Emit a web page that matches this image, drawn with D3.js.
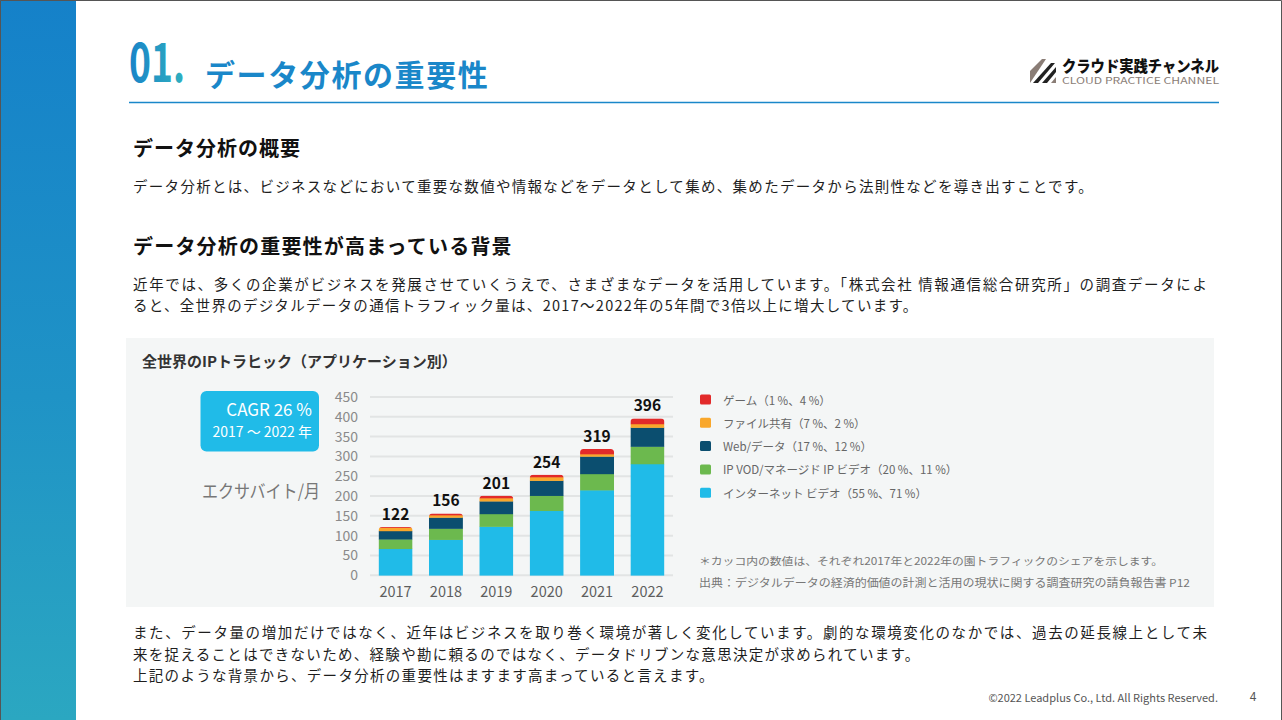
<!DOCTYPE html>
<html><head><meta charset="utf-8">
<script src="https://cdn.jsdelivr.net/npm/d3@7"></script>
<style>
html,body{margin:0;padding:0;background:#fff;}
svg{display:block;}
text{font-family:"Noto Sans CJK JP","Noto Sans",sans-serif;}
</style></head>
<body><svg id="c" width="1282" height="720"></svg>
<script>
const years = ["2017","2018","2019","2020","2021","2022"];
const seriesNames = ["インターネット ビデオ","IP VOD/マネージド IP ビデオ","Web/データ","ファイル共有","ゲーム"];
const internetVideo = [67, 90, 123, 163, 215, 281];
const ipVod        = [24, 28, 32, 38, 41, 44];
const webData      = [21, 28, 32, 38, 44, 48];
const fileSharing  = [8.5, 6, 8, 9, 6, 9];
const gaming       = [1.5, 4, 6, 6, 13, 14];
const totals       = [122, 156, 201, 254, 319, 396];
const legendLabels = ["ゲーム（1 %、4 %）","ファイル共有（7 %、2 %）","Web/データ（17 %、12 %）","IP VOD/マネージド IP ビデオ（20 %、11 %）","インターネット ビデオ（55 %、71 %）"];
const yTicks = [0,50,100,150,200,250,300,350,400,450];
const colors = ["#20bbe8","#6cb94e","#0b4e6f","#f9a72b","#e22a2a"];
const legendColors = ["#e22a2a","#f9a72b","#0b4e6f","#6cb94e","#20bbe8"];

const svg = d3.select("#c");
const defs = svg.append("defs");

// left bar gradient
const lg = defs.append("linearGradient").attr("id","lbar").attr("x1",0).attr("y1",0).attr("x2",0).attr("y2",1);
lg.append("stop").attr("offset","0%").attr("stop-color","#1581c9");
lg.append("stop").attr("offset","55%").attr("stop-color","#1f93c6");
lg.append("stop").attr("offset","100%").attr("stop-color","#2ba7c1");
svg.append("rect").attr("x",0).attr("y",0).attr("width",76).attr("height",720).attr("fill","url(#lbar)");

// title "01."
const tg = defs.append("linearGradient").attr("id","tnum").attr("x1",0).attr("y1",0).attr("x2",1).attr("y2",0);
tg.append("stop").attr("offset","0%").attr("stop-color","#1a84c8");
tg.append("stop").attr("offset","100%").attr("stop-color","#2fb0bf");
svg.append("text").attr("x",129).attr("y",82).attr("font-family","'Liberation Sans Narrow','DejaVu Sans Condensed',sans-serif")
  .attr("font-weight","bold").attr("font-size",54).attr("fill","url(#tnum)").attr("textLength",56).attr("lengthAdjust","spacingAndGlyphs").text("01.");
svg.append("text").attr("x",205).attr("y",86).attr("font-weight","bold").attr("font-size",30).attr("letter-spacing",1.6)
  .attr("fill","#1a87c9").text("データ分析の重要性");
svg.append("line").attr("x1",129).attr("x2",1219).attr("y1",102.5).attr("y2",102.5).attr("stroke","#1a87c9").attr("stroke-width",1.3);

// logo
const logo = svg.append("g").attr("transform","translate(1030,57)");
logo.append("path").attr("d","M0,26 L0,14 L12,2 L16,2 Z").attr("fill","#8a7d76");
logo.append("path").attr("d","M3,26 L21,6 L25,6 L8,26 Z").attr("fill","#222");
logo.append("path").attr("d","M12,26 L26,10 L26,15 L17,26 Z").attr("fill","#222");
logo.append("path").attr("d","M21,26 L26,20 L26,26 Z").attr("fill","#8a7d76");
svg.append("text").attr("x",1062).attr("y",72).attr("font-weight","900").attr("font-size",15.5).attr("fill","#111")
  .attr("textLength",157).attr("lengthAdjust","spacingAndGlyphs").text("クラウド実践チャンネル");
svg.append("text").attr("x",1062).attr("y",83.5).attr("font-family","'DejaVu Sans','Noto Sans',sans-serif").attr("font-size",8.5).attr("fill","#8a7d76")
  .attr("textLength",157).attr("lengthAdjust","spacingAndGlyphs").text("CLOUD PRACTICE CHANNEL");

// headings & paragraphs
const body = svg.append("g").attr("fill","#1e1e1e");
body.append("text").attr("x",133).attr("y",156).attr("font-weight","bold").attr("font-size",20).attr("letter-spacing",1).attr("fill","#111").text("データ分析の概要");
body.append("text").attr("x",133).attr("y",192).attr("font-size",14.5).attr("letter-spacing",1.3)
  .text("データ分析とは、ビジネスなどにおいて重要な数値や情報などをデータとして集め、集めたデータから法則性などを導き出すことです。");
body.append("text").attr("x",133).attr("y",254).attr("font-weight","bold").attr("font-size",20).attr("letter-spacing",1.2).attr("fill","#111").text("データ分析の重要性が高まっている背景");
body.append("text").attr("x",133).attr("y",290).attr("font-size",14.5).attr("textLength",1074).attr("lengthAdjust","spacing")
  .text("近年では、多くの企業がビジネスを発展させていくうえで、さまざまなデータを活用しています。「株式会社 情報通信総合研究所」の調査データによ");
body.append("text").attr("x",133).attr("y",311).attr("font-size",14.5).attr("letter-spacing",1.3)
  .text("ると、全世界のデジタルデータの通信トラフィック量は、2017～2022年の5年間で3倍以上に増大しています。");
body.append("text").attr("x",133).attr("y",638).attr("font-size",14.5).attr("textLength",1074).attr("lengthAdjust","spacing")
  .text("また、データ量の増加だけではなく、近年はビジネスを取り巻く環境が著しく変化しています。劇的な環境変化のなかでは、過去の延長線上として未");
body.append("text").attr("x",133).attr("y",660).attr("font-size",14.5).attr("letter-spacing",1.3)
  .text("来を捉えることはできないため、経験や勘に頼るのではなく、データドリブンな意思決定が求められています。");
body.append("text").attr("x",133).attr("y",681).attr("font-size",14.5).attr("letter-spacing",1.3)
  .text("上記のような背景から、データ分析の重要性はますます高まっていると言えます。");

// footer
svg.append("text").attr("x",1218).attr("y",702).attr("text-anchor","end").attr("font-family","'Liberation Sans Narrow','Roboto',sans-serif")
  .attr("font-size",11).attr("fill","#555").text("©2022 Leadplus Co., Ltd. All Rights Reserved.");
svg.append("text").attr("x",1253).attr("y",701).attr("text-anchor","middle").attr("font-family","'Roboto',sans-serif")
  .attr("font-size",12).attr("fill","#555").text("4");

// chart panel
svg.append("rect").attr("x",126).attr("y",338).attr("width",1088).attr("height",269).attr("fill","#f4f6f6");
svg.append("text").attr("x",142).attr("y",367).attr("font-weight","bold").attr("font-size",15).attr("fill","#333")
  .text("全世界のIPトラヒック（アプリケーション別）");

// CAGR box
svg.append("rect").attr("x",200.5).attr("y",391).attr("width",118.5).attr("height",60.5).attr("rx",6).attr("fill","#20bbe8");
svg.append("text").attr("x",312).attr("y",416).attr("text-anchor","end").attr("font-family","Roboto,'Noto Sans',sans-serif")
  .attr("font-size",17).attr("fill","#fff").text("CAGR 26 %");
svg.append("text").attr("x",312).attr("y",437).attr("text-anchor","end").attr("font-family","Roboto,'Noto Sans CJK JP',sans-serif")
  .attr("font-size",14).attr("fill","#fff").text("2017 ～ 2022 年");
svg.append("text").attr("x",202).attr("y",498).attr("font-size",18).attr("fill","#777").attr("font-family","'Noto Sans CJK JP',sans-serif")
  .attr("textLength",118).attr("lengthAdjust","spacingAndGlyphs").text("エクサバイト/月");

// scales
const x = d3.scaleBand().domain(years).range([370,673]).paddingInner(0.325).paddingOuter(0.17);
const y = d3.scaleLinear().domain([0,450]).range([575.3,397]);

// gridlines
svg.append("g").selectAll("line").data(yTicks).join("line")
  .attr("x1",370).attr("x2",673).attr("y1",d=>y(d)).attr("y2",d=>y(d))
  .attr("stroke","#e2e4e4").attr("stroke-width",2);

// y axis
const yAxis = svg.append("g").attr("transform","translate(358,0)")
  .call(d3.axisLeft(y).tickValues(yTicks).tickSize(0).tickPadding(0));
yAxis.select(".domain").remove();
yAxis.selectAll("text").attr("font-family","Roboto,'Noto Sans',sans-serif").attr("font-size",14).attr("fill","#8a8a8a");

// x axis
const xAxis = svg.append("g").attr("transform","translate(0,587)")
  .call(d3.axisBottom(x).tickSize(0).tickPadding(0));
xAxis.select(".domain").remove();
xAxis.selectAll("text").attr("font-family","Roboto,'Noto Sans',sans-serif").attr("font-size",14.5).attr("fill","#5e5e5e").attr("dy","0.71em");

// stacked data
const table = years.map((yr,i)=>({year:yr, s0:internetVideo[i], s1:ipVod[i], s2:webData[i], s3:fileSharing[i], s4:gaming[i]}));
const keys = ["s0","s1","s2","s3","s4"];
const stack = d3.stack().keys(keys)(table);

// clip paths for rounded tops
years.forEach((yr,i)=>{
  const top = y(d3.sum(keys, k=>table[i][k]));
  defs.append("clipPath").attr("id","clip"+i).append("rect")
    .attr("x",x(yr)).attr("y",top).attr("width",x.bandwidth()).attr("height",y(0)-top+10).attr("rx",3.5);
});

const layers = svg.append("g").selectAll("g").data(stack).join("g").attr("fill",(d,i)=>colors[i]);
layers.selectAll("rect").data(d=>d).join("rect")
  .attr("x",d=>x(d.data.year)).attr("width",x.bandwidth())
  .attr("y",d=>y(d[1])).attr("height",d=>y(d[0])-y(d[1])+0.3)
  .attr("clip-path",(d,i)=>`url(#clip${i})`);

// totals
svg.append("g").selectAll("text").data(years).join("text")
  .attr("x",d=>x(d)+x.bandwidth()/2).attr("y",(d,i)=>y(totals[i])-7)
  .attr("text-anchor","middle").attr("font-family","'Noto Sans',sans-serif").attr("font-weight","bold")
  .attr("font-size",15.5).attr("fill","#111").text((d,i)=>totals[i]);

// legend
const leg = svg.append("g").selectAll("g").data(legendLabels).join("g")
  .attr("transform",(d,i)=>`translate(700,${400 + i*23.3})`);
leg.append("rect").attr("x",0).attr("y",-5.5).attr("width",11).attr("height",10).attr("rx",1.5).attr("fill",(d,i)=>legendColors[i]);
leg.append("text").attr("x",23).attr("y",4.5).attr("font-size",11.5).attr("fill","#666").text(d=>d);

// notes
svg.append("text").attr("x",699).attr("y",565).attr("font-size",10.5).attr("fill","#777").attr("textLength",464).attr("lengthAdjust","spacingAndGlyphs")
  .text("＊カッコ内の数値は、それぞれ2017年と2022年の園トラフィックのシェアを示します。");
svg.append("text").attr("x",699).attr("y",587).attr("font-size",11).attr("fill","#777").attr("textLength",491).attr("lengthAdjust","spacingAndGlyphs")
  .text("出典：デジタルデータの経済的価値の計測と活用の現状に関する調査研究の請負報告書 P12");

// thin frame lines (screenshot edge)
svg.append("path").attr("d","M0.5,720 V0.5 H1281.5 V720").attr("fill","none").attr("stroke","#555").attr("stroke-width",1);
</script></body></html>
